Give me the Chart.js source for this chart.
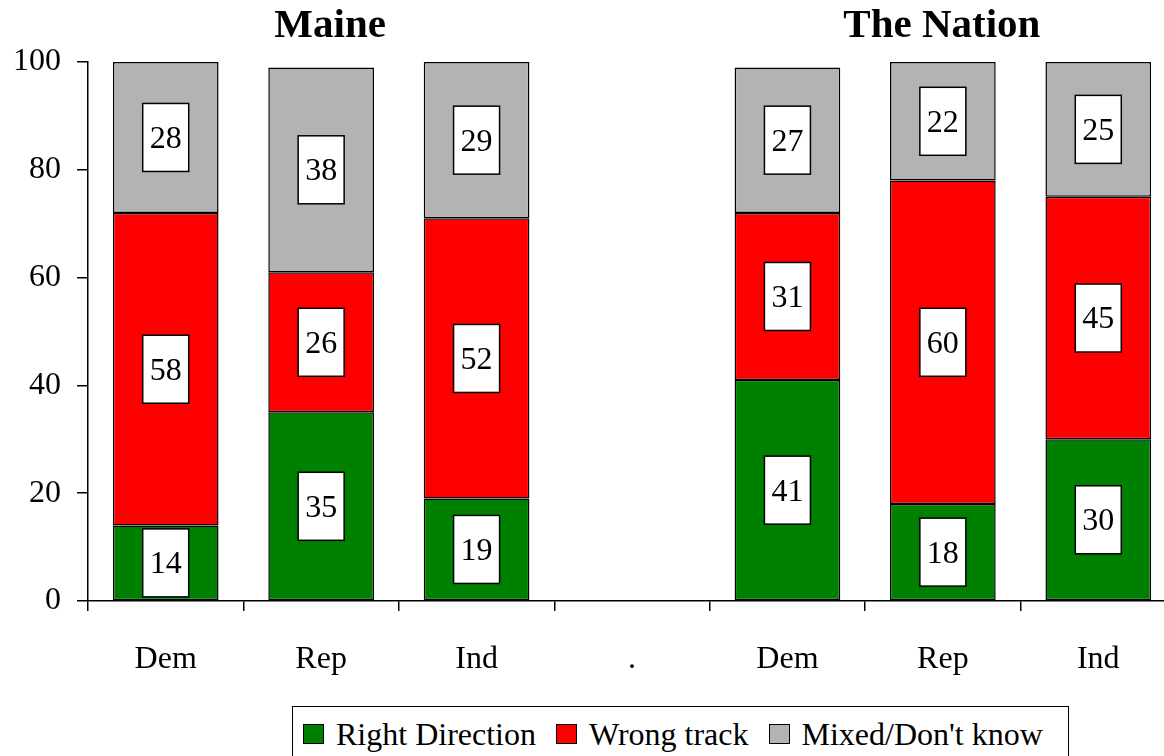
<!DOCTYPE html>
<html>
<head>
<meta charset="utf-8">
<script src="https://cdn.jsdelivr.net/npm/chart.js@4.4.1/dist/chart.umd.min.js"></script>
<style>
  body { margin: 0; overflow: hidden; background: #fff; width: 1164px; height: 756px; position: relative; }
  #wrap { position: absolute; left: 0; top: 0; }
  #legend { position: absolute; left: 292px; top: 706px; width: 777px; height: 60px; border: 1.5px solid #000; box-sizing: border-box;
            display: flex; align-items: flex-start; padding: 17px 0 0 10px; font-family: 'Liberation Serif', 'Times New Roman', serif; font-size: 32px; line-height: 20px; }
  #legend .sw { width: 19px; height: 18px; border: 1.5px solid #000; margin-right: 12px; flex: none; }
  #legend .lbl { margin-right: 20px; white-space: nowrap; line-height: 21px; }
</style>
</head>
<body>
<div id="wrap"><canvas id="chart" width="1176" height="700"></canvas></div>
<div id="legend"></div>
<script>
const categories = ['Dem', 'Rep', 'Ind', '.', 'Dem', 'Rep', 'Ind'];
const rightDirection = [14, 35, 19, null, 41, 18, 30];
const wrongTrack = [58, 26, 52, null, 31, 60, 45];
const mixedDontKnow = [28, 38, 29, null, 27, 22, 25];
const seriesNames = ['Right Direction', 'Wrong track', "Mixed/Don't know"];
const seriesColors = ['#008000', '#ff0000', '#b3b3b3'];
const yMin = 0, yMax = 100, yStep = 20;
const groupTitles = ['Maine', 'The Nation'];
const groupTitleAt = [1, 5];

const FONT = "'Liberation Serif', 'Times New Roman', serif";

// group titles above the bars
const titlePlugin = {
  id: 'groupTitles',
  afterDraw(chart) {
    const ctx = chart.ctx, x = chart.scales.x;
    const nudge = [9, -1];
    ctx.save();
    ctx.font = 'bold 41px ' + FONT;
    ctx.fillStyle = '#000';
    ctx.textAlign = 'center';
    ctx.textBaseline = 'alphabetic';
    groupTitles.forEach((t, i) => ctx.fillText(t, x.getPixelForValue(groupTitleAt[i]) + nudge[i], 37));
    ctx.restore();
  }
};

// white boxed value labels in the middle of each segment
const boxLabels = {
  id: 'boxLabels',
  afterDatasetsDraw(chart) {
    const ctx = chart.ctx;
    ctx.save();
    ctx.font = '32px ' + FONT;
    ctx.textAlign = 'center';
    ctx.textBaseline = 'middle';
    chart.data.datasets.forEach((ds, di) => {
      chart.getDatasetMeta(di).data.forEach((el, i) => {
        const v = ds.data[i];
        if (v == null) return;
        const cx = el.x, cy = (el.y + el.base) / 2;
        const w = 46, h = 68;
        ctx.fillStyle = '#fff';
        ctx.fillRect(cx - w / 2, cy - h / 2, w, h);
        ctx.lineWidth = 1.5;
        ctx.strokeStyle = '#000';
        ctx.strokeRect(cx - w / 2, cy - h / 2, w, h);
        ctx.fillStyle = '#000';
        ctx.fillText(String(v), cx, cy + 2);
      });
    });
    ctx.restore();
  }
};

const seriesData = [rightDirection, wrongTrack, mixedDontKnow];

new Chart(document.getElementById('chart'), {
  type: 'bar',
  data: {
    labels: categories,
    datasets: seriesData.map((d, i) => ({
      label: seriesNames[i], data: d, backgroundColor: seriesColors[i],
      borderColor: '#000', borderWidth: 1.5, borderSkipped: false,
      barPercentage: 0.68, categoryPercentage: 1
    }))
  },
  options: {
    responsive: false, animation: false,
    layout: { padding: { top: 62, left: 0, right: 0, bottom: 0 } },
    plugins: { legend: { display: false }, tooltip: { enabled: false } },
    scales: {
      x: {
        stacked: true,
        grid: { display: true, offset: true, drawOnChartArea: false, drawTicks: true, tickLength: 10, color: '#000', lineWidth: 1.5 },
        border: { display: true, color: '#000', width: 1.5 },
        ticks: { color: '#000', font: { family: FONT, size: 32 }, padding: 29, maxRotation: 0, autoSkip: false },
        afterFit(s) { s.height = 99; }
      },
      y: {
        stacked: true, min: yMin, max: yMax,
        grid: { display: true, drawOnChartArea: false, drawTicks: true, tickLength: 11, color: '#000', lineWidth: 1.5 },
        border: { display: true, color: '#000', width: 1.5 },
        ticks: { stepSize: yStep, color: '#000', font: { family: FONT, size: 32 }, padding: 16 },
        afterFit(s) { s.width = 88; }
      }
    }
  },
  plugins: [titlePlugin, boxLabels]
});

// legend box built from the series
const legend = document.getElementById('legend');
seriesNames.forEach((n, i) => {
  const sw = document.createElement('span');
  sw.className = 'sw'; sw.style.background = seriesColors[i];
  const lb = document.createElement('span');
  lb.className = 'lbl'; lb.textContent = n;
  legend.appendChild(sw); legend.appendChild(lb);
});
</script>
</body>
</html>
